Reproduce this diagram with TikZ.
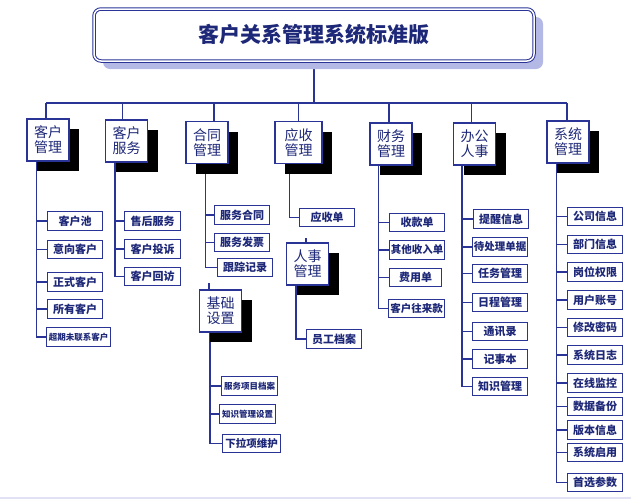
\documentclass[tikz,border=0pt]{standalone}
\usepackage{fontspec}
\setmainfont{Noto Sans CJK SC}
\usepackage{xcolor}
\usetikzlibrary{shadows}
\definecolor{boxblue}{RGB}{42,52,150}
\definecolor{textblue}{RGB}{30,40,120}
\definecolor{shadeblue}{RGB}{180,184,228}
\pgfdeclarelayer{bg}
\pgfsetlayers{bg,main}
\tikzset{
  topbox/.style={draw=boxblue, line width=1.2pt, fill=white, text=textblue,
    minimum width=42, minimum height=42, inner sep=1pt, align=center,
    font=\fontsize{14}{15}\selectfont,
    drop shadow={shadow xshift=10pt, shadow yshift=-10pt, fill=black, opacity=1}},
  leaf/.style={draw=boxblue, line width=1.2pt, fill=white, text=textblue,
    minimum width=55, minimum height=18.5, inner sep=1pt, anchor=west,
    font=\bfseries\fontsize{11}{12}\selectfont},
  small/.style={font=\bfseries\fontsize{8.5}{9}\selectfont},
  mid/.style={font=\bfseries\fontsize{10.5}{11}\selectfont},
  wire/.style={draw=boxblue, line width=1.2pt}
}
\begin{document}
\begin{tikzpicture}[x=1pt, y=-1pt]
  \useasboundingbox (0,0) rectangle (631,501);
  \draw[shadeblue!40, line width=1.5pt] (0,498) -- (631,498);

  \node[draw=boxblue, line width=1pt, double=white, double distance=1.5pt,
    rounded corners=7pt, fill=white, minimum width=440, minimum height=52,
    text=textblue, font=\bfseries\fontsize{21}{22}\selectfont,
    drop shadow={shadow xshift=9pt, shadow yshift=-8pt, fill=shadeblue, opacity=1}]
    (title) at (314,35) {客户关系管理系统标准版};

  % top level
  \node[topbox] (kh) at (48,140)    {客户\\管理};
  \node[topbox] (kf) at (126.5,141) {客户\\服务};
  \node[topbox] (ht) at (207,142.5) {合同\\管理};
  \node[topbox, minimum width=47] (ys) at (298.5,142.5) {应收\\管理};
  \node[topbox] (cw) at (391,144)   {财务\\管理};
  \node[topbox] (bg) at (474.5,144) {办公\\人事};
  \node[topbox] (xt) at (568,142)   {系统\\管理};
  \node[topbox] (jc) at (220.5,311) {基础\\设置};
  \node[topbox] (rs) at (307.5,264) {人事\\管理};

  % leaves
  \foreach \t/\y [count=\i] in {客户池/221, 意向客户/249.5, 正式客户/282, 所有客户/309}
    \node[leaf] (kh\i) at (47,\y) {\t};
  \node[leaf, small, minimum width=64] (kh5) at (46,337) {超期未联系客户};
  \foreach \t/\y [count=\i] in {售后服务/221, 客户投诉/249, 客户回访/276.5}
    \node[leaf, minimum width=56] (kf\i) at (124,\y) {\t};
  \node[leaf] (ht1) at (214,215)   {服务合同};
  \node[leaf] (ht2) at (214,242.5) {服务发票};
  \node[leaf] (ht3) at (217,267.5) {跟踪记录};
  \node[leaf] (ys1) at (299,217.5) {应收单};
  \node[leaf] (rs1) at (306,339)   {员工档案};
  \node[leaf, small, minimum width=56] (jc1) at (221,386) {服务项目档案};
  \node[leaf, small, minimum width=56] (jc2) at (219,414) {知识管理设置};
  \node[leaf, mid, minimum width=58]   (jc3) at (222,443.5) {下拉项维护};
  \node[leaf] (cw1) at (389,222.5) {收款单};
  \node[leaf, mid] (cw2) at (389,250) {其他收入单};
  \node[leaf, minimum width=52] (cw3) at (389,277.5) {费用单};
  \node[leaf, mid, minimum width=56] (cw4) at (388,308.5) {客户往来款};
  \node[leaf] (bg1) at (473,219) {提醒信息};
  \node[leaf, mid] (bg2) at (472,247) {待处理单据};
  \foreach \t/\y [count=\i from 3] in {任务管理/273.5, 日程管理/302.5,
      通讯录/331.5, 记事本/359, 知识管理/386.5}
    \node[leaf] (bg\i) at (472,\y) {\t};
  \foreach \t/\y [count=\i] in {公司信息/216.5, 部门信息/244.5, 岗位权限/272, 用户账号/300,
      修改密码/327.5, 系统日志/355, 在线监控/383, 数据备份/406.5, 版本信息/430,
      系统启用/452.5, 首选参数/482.5}
    \node[leaf] (xt\i) at (567,\y) {\t};

  \begin{pgfonlayer}{bg}
    \coordinate (bar) at (0,103);
    \draw[wire] (title.south) -- (title.south |- bar);
    \draw[wire] ([xshift=-2]kh.north |- bar) -- ([xshift=-1]xt.north |- bar);
    \foreach \n/\s in {kh/-2, kf/-4, ht/7, ys/0, cw/-2, bg/-3, xt/-1}
      \draw[wire] ([xshift=\s]\n.north) -- ([xshift=\s]\n.north |- bar);
    \foreach \i in {1,...,5}  \draw[wire] ([xshift=10]kh.south west) |- (kh\i.west);
    \foreach \i in {1,2,3}    \draw[wire] ([xshift=10]kf.south west) |- (kf\i.west);
    \foreach \i in {1,2,3}    \draw[wire] ([xshift=20]ht.south west) |- (ht\i.west);
    \draw[wire] ([xshift=15]ys.south west) |- (ys1.west);
    \draw[wire] ([xshift=10]rs.south west) |- (rs1.west);
    \foreach \i in {1,2,3}    \draw[wire] ([xshift=11]jc.south west) |- (jc\i.west);
    \foreach \i in {1,...,4}  \draw[wire] ([xshift=9]cw.south west) |- (cw\i.west);
    \foreach \i in {1,...,7}  \draw[wire] ([xshift=9]bg.south west) |- (bg\i.west);
    \foreach \i in {1,...,11} \draw[wire] ([xshift=10]xt.south west) |- (xt\i.west);
    % short stubs
    \draw[wire] ([xshift=10]jc.north west) -- ++(0,-6);
    \draw[wire] ([xshift=20]rs.north west) -- ++(0,-4);
  \end{pgfonlayer}
\end{tikzpicture}
\end{document}
